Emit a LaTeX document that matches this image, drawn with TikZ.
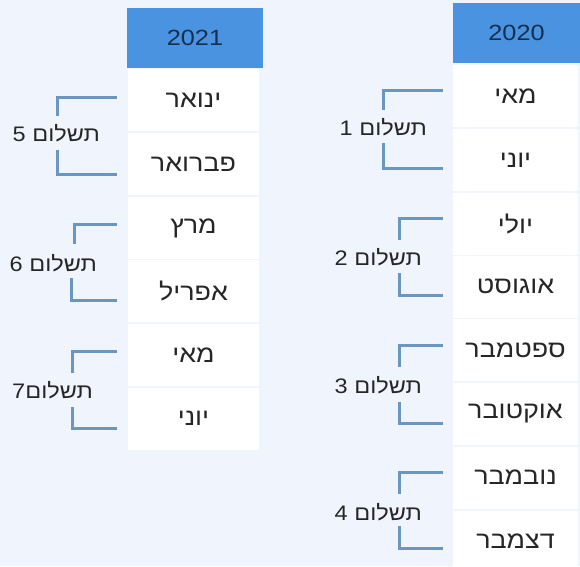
\documentclass[tikz,border=0pt]{standalone}
\usepackage{fontspec}
\setmainfont{Liberation Sans}
\newfontfamily\hebfont[Script=Hebrew,FakeStretch=1.12]{Liberation Sans}
\newfontfamily\digfont[FakeStretch=1.15]{Liberation Sans}
\TeXXeTstate=1
\definecolor{bgc}{HTML}{F0F4FC}
\definecolor{hdr}{HTML}{4A93E0}
\definecolor{hdrtxt}{HTML}{15304F}
\definecolor{brk}{HTML}{6A96C0}
\definecolor{txt}{HTML}{262626}
\begin{document}
\begin{tikzpicture}[x=1pt,y=-1pt,
  cellbox/.style={fill=white,draw=none,inner sep=0pt,minimum width=#1,minimum height=62pt,
    font=\hebfont\fontsize{24}{28}\selectfont,text=txt},
  hdrbox/.style={fill=hdr,draw=none,inner sep=0pt,minimum width=#1,minimum height=60pt,
    font=\digfont\fontsize{22}{26}\selectfont,text=hdrtxt},
  paylbl/.style={inner sep=0pt,anchor=east,font=\hebfont\fontsize{21}{25}\selectfont,text=txt},
  brkline/.style={draw=brk,line width=3pt}]
\fill[bgc] (0,0) rectangle (580,566);
\useasboundingbox (0,0) rectangle (580,566);
% ---- 2021 column
\node[hdrbox=136pt] (h21) at (195,38) {2021};
\node[cellbox=131pt] (l1) at (193.5,100) {\beginR ינואר\endR};
\node[cellbox=131pt] (l2) at (193.5,164) {\beginR פברואר\endR};
\node[cellbox=131pt] (l3) at (193.5,228) {\beginR מרץ\endR};
\node[cellbox=131pt] (l4) at (193.5,291) {\beginR אפריל\endR};
\node[cellbox=131pt] (l5) at (193.5,355) {\beginR מאי\endR};
\node[cellbox=131pt] (l6) at (193.5,418.5) {\beginR יוני\endR};
% ---- 2020 column
\node[hdrbox=127pt] (h20) at (516.5,32.5) {2020};
\node[cellbox=125pt] (r1) at (515.5,96) {\beginR מאי\endR};
\node[cellbox=125pt] (r2) at (515.5,160) {\beginR יוני\endR};
\node[cellbox=125pt] (r3) at (515.5,223.5) {\beginR יולי\endR};
\node[cellbox=125pt] (r4) at (515.5,286.5) {\beginR אוגוסט\endR};
\node[cellbox=125pt] (r5) at (515.5,350) {\beginR ספטמבר\endR};
\node[cellbox=125pt] (r6) at (515.5,413.5) {\beginR אוקטובר\endR};
\node[cellbox=125pt] (r7) at (515.5,477.5) {\beginR נובמבר\endR};
\node[cellbox=125pt] (r8) at (515.5,541.5) {\beginR דצמבר\endR};
% ---- payment labels
\node[paylbl] (p5) at (100,133) {5 \beginR תשלום\endR};
\node[paylbl] (p6) at (97,263) {6 \beginR תשלום\endR};
\node[paylbl] (p7) at (93,390) {7\beginR תשלום\endR};
\node[paylbl] (p1) at (427,127) {1 \beginR תשלום\endR};
\node[paylbl] (p2) at (422,257) {2 \beginR תשלום\endR};
\node[paylbl] (p3) at (422,385) {3 \beginR תשלום\endR};
\node[paylbl] (p4) at (422,512) {4 \beginR תשלום\endR};
% ---- brackets
\draw[brkline] ([xshift=-11pt,yshift=3pt]l1.west) -- ++(-59,0) -- ++(0,19);
\draw[brkline] ([xshift=-11pt,yshift=-10pt]l2.west) -- ++(-59,0) -- ++(0,-24);
\draw[brkline] ([xshift=-11pt,yshift=4pt]l3.west) -- ++(-42,0) -- ++(0,20);
\draw[brkline] ([xshift=-11pt,yshift=-9pt]l4.west) -- ++(-45,0) -- ++(0,-22);
\draw[brkline] ([xshift=-11pt,yshift=4pt]l5.west) -- ++(-44,0) -- ++(0,22);
\draw[brkline] ([xshift=-11pt,yshift=-9.5pt]l6.west) -- ++(-44,0) -- ++(0,-21);
\draw[brkline] ([xshift=-10pt,yshift=6pt]r1.west) -- ++(-59,0) -- ++(0,20);
\draw[brkline] ([xshift=-10pt,yshift=-8pt]r2.west) -- ++(-59,0) -- ++(0,-25);
\draw[brkline] ([xshift=-10pt,yshift=5.5pt]r3.west) -- ++(-43,0) -- ++(0,22);
\draw[brkline] ([xshift=-10pt,yshift=-8.5pt]r4.west) -- ++(-43,0) -- ++(0,-22);
\draw[brkline] ([xshift=-10pt,yshift=5pt]r5.west) -- ++(-43,0) -- ++(0,22);
\draw[brkline] ([xshift=-10pt,yshift=-9.5pt]r6.west) -- ++(-43,0) -- ++(0,-21);
\draw[brkline] ([xshift=-10pt,yshift=5.5pt]r7.west) -- ++(-43,0) -- ++(0,22);
\draw[brkline] ([xshift=-10pt,yshift=-6.5pt]r8.west) -- ++(-43,0) -- ++(0,-22);
\end{tikzpicture}
\end{document}
